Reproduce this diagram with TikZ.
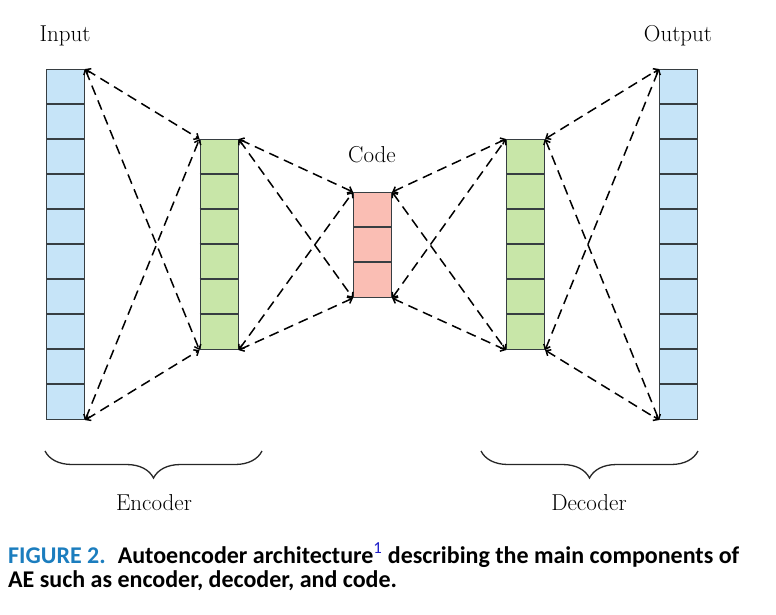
\documentclass[tikz,border=0pt]{standalone}
\usepackage{fontspec}
\newfontfamily\capfont{Carlito}
\usetikzlibrary{arrows.meta,decorations.pathreplacing}
\definecolor{cblue}{RGB}{198,228,248}
\definecolor{cgreen}{RGB}{200,230,168}
\definecolor{cred}{RGB}{250,190,180}
\definecolor{cborder}{RGB}{55,62,66}
\definecolor{capblue}{RGB}{27,125,190}
\definecolor{suplink}{RGB}{30,30,200}
\begin{document}
\begin{tikzpicture}[x=1pt,y=-1pt,
  col/.style={draw=cborder, line width=1.1pt, minimum width=38pt, inner sep=0pt, anchor=north west},
  cellline/.style={draw=cborder, line width=1.3pt},
  conn/.style={dash pattern=on 10pt off 6pt, line width=1.5pt,
    {Straight Barb[length=4pt,width=7pt]}-{Straight Barb[length=4pt,width=7pt]}},
  lbl/.style={font=\fontsize{23}{26}\selectfont, anchor=base, inner sep=0pt},
  bracestyle/.style={decorate, decoration={brace, mirror, amplitude=27pt}, line width=1.3pt, draw=black!85},
  captext/.style={font=\capfont\bfseries\fontsize{24}{28}\selectfont, anchor=base west, inner sep=0pt}
]
\useasboundingbox (0,0) rectangle (776,614);

% columns
\node[col, fill=cblue, minimum height=350pt] (in) at (46,69) {};
\node[col, fill=cgreen, minimum height=210pt] (enc) at (199.5,139) {};
\node[col, fill=cred, minimum height=105pt] (code) at (353,192) {};
\node[col, fill=cgreen, minimum height=210pt] (dec) at (506,139) {};
\node[col, fill=cblue, minimum height=350pt] (out) at (659,69) {};

\foreach \n/\k in {in/9, enc/5, code/2, dec/5, out/9}{
  \foreach \i in {1,...,\k}{
    \draw[cellline] ([yshift=-\i*35pt]\n.north west) -- ([yshift=-\i*35pt]\n.north east);
  }
}

% connectors
\foreach \a/\b in {in/enc, enc/code, code/dec, dec/out}{
  \draw[conn] (\a.north east) -- (\b.north west);
  \draw[conn] (\a.north east) -- (\b.south west);
  \draw[conn] (\a.south east) -- (\b.north west);
  \draw[conn] (\a.south east) -- (\b.south west);
}

% labels
\node[lbl] (linput) at (65,41) {Input};
\node[lbl] (loutput) at (678,41) {Output};
\node[lbl] (lcode) at (372,162) {Code};

% braces
\coordinate (eb1) at (45,451);
\coordinate (eb2) at (262,451);
\coordinate (db1) at (481,451);
\coordinate (db2) at (698,451);
\draw[bracestyle] (eb1) -- (eb2);
\draw[bracestyle] (db1) -- (db2);
\node[lbl] (lenc) at (154,510) {Encoder};
\node[lbl] (ldec) at (589,510) {Decoder};

% caption
\node[captext] (cap1) at (8,563) {\textcolor{capblue}{FIGURE 2.}\hspace{0.5em}Autoencoder architecture\textsuperscript{\mdseries\textcolor{suplink}{1}}\ describing the main components of};
\node[captext] (cap2) at (8,587) {AE such as encoder, decoder, and code.};
\end{tikzpicture}
\end{document}
